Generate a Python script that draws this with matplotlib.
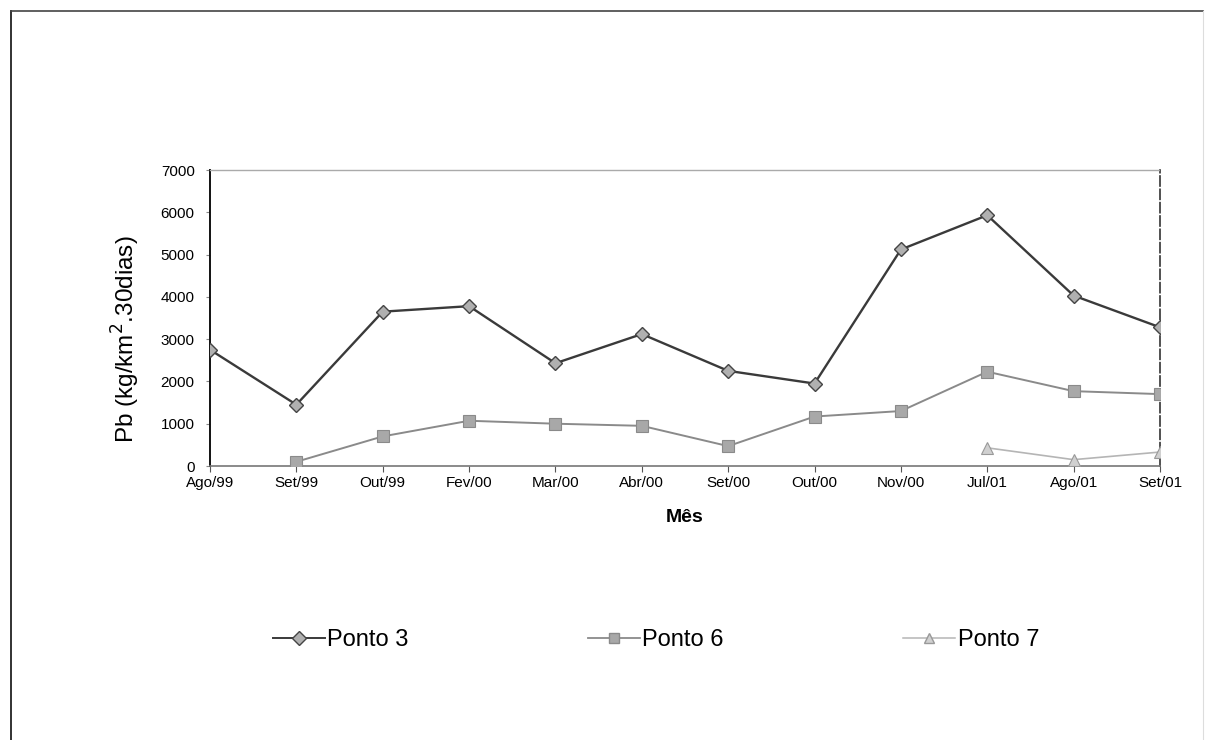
import matplotlib
matplotlib.use("Agg")
import matplotlib.pyplot as plt
from matplotlib.lines import Line2D
import numpy as np

plt.rcParams['font.family'] = ['Liberation Sans', 'DejaVu Sans']

meses = ["Ago/99", "Set/99", "Out/99", "Fev/00", "Mar/00", "Abr/00",
         "Set/00", "Out/00", "Nov/00", "Jul/01", "Ago/01", "Set/01"]
ponto3 = [2750, 1450, 3650, 3780, 2430, 3120, 2250, 1950, 5120, 5930, 4030, 3280]
ponto6 = [np.nan, 100, 700, 1070, 1000, 950, 470, 1170, 1300, 2230, 1770, 1700]
ponto7 = [np.nan] * 9 + [430, 150, 330]
yticks = [0, 1000, 2000, 3000, 4000, 5000, 6000, 7000]

W, H = 1208, 740
fig = plt.figure(figsize=(W / 100, H / 100), dpi=100)
ax = fig.add_axes([210 / W, 1 - 466 / H, 950 / W, 296 / H])

x = np.arange(len(meses))
l3, = ax.plot(x, ponto3, color="#3a3a3a", lw=1.7, marker="D", ms=7.5,
              mfc="#b0b0b0", mec="#444444", mew=1.0, label="Ponto 3", zorder=4)
l6, = ax.plot(x, ponto6, color="#8a8a8a", lw=1.4, marker="s", ms=8.5,
              mfc="#a8a8a8", mec="#8a8a8a", mew=0.8, label="Ponto 6", zorder=3)
l7, = ax.plot(x, ponto7, color="#b5b5b5", lw=1.2, marker="^", ms=8.5,
              mfc="#d0d0d0", mec="#999999", mew=0.8, label="Ponto 7", zorder=3)

ax.set_xlim(0, len(meses) - 1)
ax.set_ylim(0, 7000)
ax.set_yticks(yticks)
ax.set_yticklabels([str(v) for v in yticks], fontsize=11)
ax.set_xticks(x)
ax.set_xticklabels(meses, fontsize=11)
ax.tick_params(axis="x", direction="out", length=4, pad=3, color="#555555")
ax.tick_params(axis="y", direction="out", length=3, pad=8, color="#888888")

ax.spines["left"].set_color("#111111")
ax.spines["left"].set_linewidth(1.4)
ax.spines["bottom"].set_color("#777777")
ax.spines["bottom"].set_linewidth(1.2)
ax.spines["top"].set_color("#aaaaaa")
ax.spines["top"].set_linewidth(1.0)
ax.spines["top"].set_linestyle((0, (2, 1)))
ax.spines["right"].set_color("#333333")
ax.spines["right"].set_linewidth(1.2)
ax.spines["right"].set_linestyle((0, (6, 2)))
for s in ax.spines.values():
    s.set_zorder(2)
ax.patch.set_alpha(0)

ax.set_ylabel("Pb (kg/km$^2$.30dias)", fontsize=17.5)
ax.yaxis.set_label_coords(-0.072, 0.43)
ax.set_xlabel("Mês", fontsize=14, fontweight="bold", labelpad=14)

handles = [
    Line2D([0], [0], color="#3a3a3a", lw=1.4, marker="D", ms=7, mfc="#b0b0b0", mec="#444444"),
    Line2D([0], [0], color="#8a8a8a", lw=1.3, marker="s", ms=7, mfc="#a8a8a8", mec="#8a8a8a"),
    Line2D([0], [0], color="#b5b5b5", lw=1.1, marker="^", ms=7, mfc="#d0d0d0", mec="#999999"),
]
fig.legend(handles, ["Ponto 3", "Ponto 6", "Ponto 7"], loc="center",
           bbox_to_anchor=(656 / W, 1 - 640 / H), ncol=3, frameon=False,
           fontsize=17, handlelength=2.2, handletextpad=0.1, columnspacing=7.6)

# outer frame of the scanned page
fig.add_artist(Line2D([11 / W, 11 / W], [0, 1 - 11 / H], transform=fig.transFigure,
                      color="#222222", lw=1.3))
fig.add_artist(Line2D([11 / W, 1203 / W], [1 - 11 / H, 1 - 11 / H], transform=fig.transFigure,
                      color="#444444", lw=1.2))
fig.add_artist(Line2D([1203 / W, 1203 / W], [1 - 11 / H, 0], transform=fig.transFigure,
                      color="#dddddd", lw=0.8))

fig.savefig("out.png", dpi=100)
